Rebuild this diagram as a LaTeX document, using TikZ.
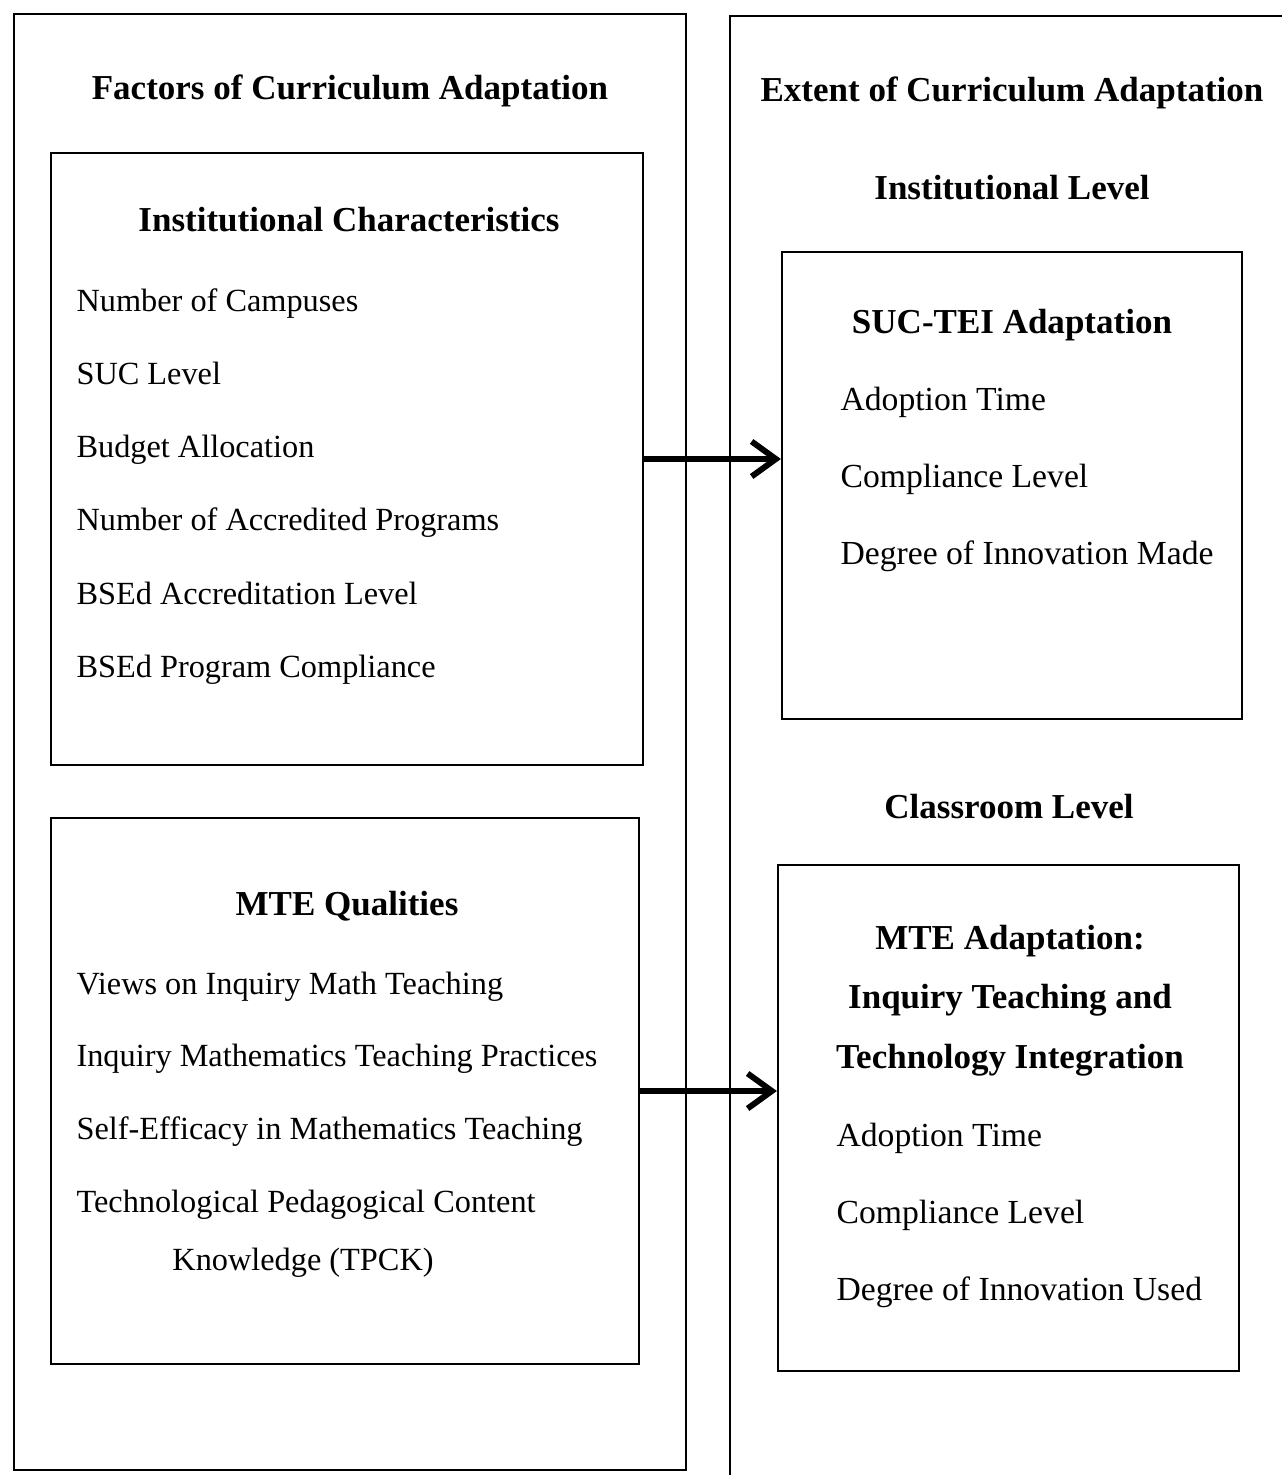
\documentclass[tikz,border=0pt]{standalone}
\usepackage{fontspec}
\setmainfont{Liberation Serif}
\usetikzlibrary{arrows.meta, positioning, fit}

\begin{document}
\begin{tikzpicture}[
    x=0.3713pt, y=-0.3713pt,
    panel/.style={rectangle, draw, line width=0.9pt, inner sep=0pt},
    box/.style={rectangle, draw, line width=0.8pt, inner sep=0pt},
    heading/.style={font=\bfseries\fontsize{13}{15}\selectfont, inner sep=0pt, anchor=base},
    entry/.style={font=\fontsize{12}{14}\selectfont, inner sep=0pt, anchor=base west},
    rentry/.style={entry, font=\fontsize{12.5}{14}\selectfont},
    arrow/.style={-{Straight Barb[length=9pt,width=13pt]}, line width=2.2pt}
]

    \useasboundingbox (0,0) rectangle (1281,1475);

    % Outer panels
    \node[panel, fit={(14,14) (686,1470)}] (factors) {};
    \node[panel, fit={(730,16) (1330,1530)}] (extent) {};

    \node[heading] (factorstitle) at (350,100) {Factors of Curriculum Adaptation};
    \node[heading] (extenttitle) at (1012,102) {Extent of Curriculum Adaptation};
    \node[heading] (instlevel) at (1012,200) {Institutional Level};
    \node[heading] (classlevel) at (1009,818) {Classroom Level};

    % Institutional Characteristics
    \node[box, fit={(51,153) (643,765)}] (inst) {};
    \node[heading] (instname) at (349,232) {Institutional Characteristics};
    \node[entry] (inst1) at (76,311) {Number of Campuses};
    \node[entry, below=27.2pt of inst1.base west, anchor=base west] (inst2) {SUC Level};
    \node[entry, below=27.2pt of inst2.base west, anchor=base west] (inst3) {Budget Allocation};
    \node[entry, below=27.2pt of inst3.base west, anchor=base west] (inst4) {Number of Accredited Programs};
    \node[entry, below=27.2pt of inst4.base west, anchor=base west] (inst5) {BSEd Accreditation Level};
    \node[entry, below=27.2pt of inst5.base west, anchor=base west] (inst6) {BSEd Program Compliance};

    % MTE Qualities
    \node[box, fit={(51,818) (639,1364)}] (mte) {};
    \node[heading] (mtename) at (347,915) {MTE Qualities};
    \node[entry] (mte1) at (76,994) {Views on Inquiry Math Teaching};
    \node[entry, below=27.1pt of mte1.base west, anchor=base west] (mte2) {Inquiry Mathematics Teaching Practices};
    \node[entry, below=27.1pt of mte2.base west, anchor=base west] (mte3) {Self-Efficacy in Mathematics Teaching};
    \node[entry, below=27.1pt of mte3.base west, anchor=base west] (mte4) {Technological Pedagogical Content};
    \node[entry, below=21.2pt of mte4.base west, anchor=base west, xshift=35.6pt] (mte4b) {Knowledge (TPCK)};

    % SUC-TEI Adaptation
    \node[box, fit={(782,252) (1242,719)}] (suc) {};
    \node[heading] (sucname) at (1012,333) {SUC-TEI Adaptation};
    \node[rentry] (suc1) at (840,410) {Adoption Time};
    \node[rentry, below=28.6pt of suc1.base west, anchor=base west] (suc2) {Compliance Level};
    \node[rentry, below=28.6pt of suc2.base west, anchor=base west] (suc3) {Degree of Innovation Made};

    % MTE Adaptation
    \node[box, fit={(778,865) (1239,1371)}] (adapt) {};
    \node[heading] (adaptname1) at (1010,949) {MTE Adaptation:};
    \node[heading, below=22.1pt of adaptname1.base, anchor=base] (adaptname2) {Inquiry Teaching and};
    \node[heading, below=22.1pt of adaptname2.base, anchor=base] (adaptname3) {Technology Integration};
    \node[rentry] (adapt1) at (836,1146) {Adoption Time};
    \node[rentry, below=28.6pt of adapt1.base west, anchor=base west] (adapt2) {Compliance Level};
    \node[rentry, below=28.6pt of adapt2.base west, anchor=base west] (adapt3) {Degree of Innovation Used};

    % Arrows
    \draw[arrow] (inst.east) -- (inst.east -| suc.west);
    \draw[arrow] (mte.east) -- (mte.east -| adapt.west);

\end{tikzpicture}
\end{document}
